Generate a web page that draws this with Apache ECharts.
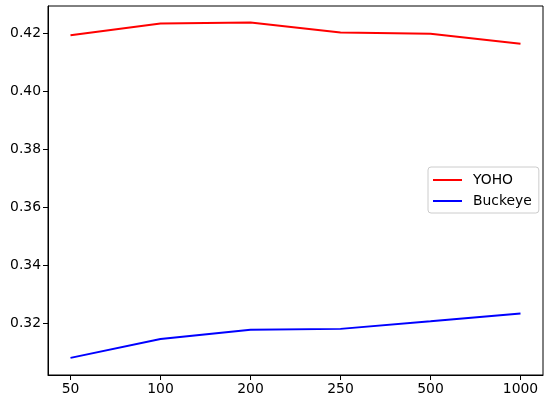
<!DOCTYPE html>
<html><head><meta charset="utf-8">
<script src="https://cdn.jsdelivr.net/npm/echarts@6/dist/echarts.min.js"></script>
<style>html,body{margin:0;padding:0;background:#fff}#c{width:552px;height:406px}</style>
</head><body><div id="c"></div>
<script>
const categories = ['50', '100', '200', '250', '500', '1000'];
const yoho = [0.4193, 0.4234, 0.4237, 0.4203, 0.4198, 0.4164];
const buckeye = [0.3081, 0.3146, 0.3178, 0.3181, 0.3207, 0.3234];
const yTicks = [0.32, 0.34, 0.36, 0.38, 0.40, 0.42];

const idx = categories.map((_, i) => i);
const chart = echarts.init(document.getElementById('c'), null, {renderer: 'canvas'});
const font = 'DejaVu Sans';
chart.setOption({
  animation: false,
  backgroundColor: '#fff',
  grid: {left: 48, top: 6, right: 9, bottom: 31, show: true, borderColor: '#000', borderWidth: 1},
  xAxis: {
    type: 'value', min: -0.25, max: 5.25,
    splitLine: {show: false},
    axisLine: {show: true, onZero: false, lineStyle: {color: '#000', width: 1}},
    axisTick: {show: true, length: 5, lineStyle: {color: '#000'}, customValues: idx},
    axisLabel: {customValues: idx, formatter: v => categories[Math.round(v)] || '', color: '#000', fontFamily: font, fontSize: 13.9, margin: 7}
  },
  yAxis: {
    type: 'value', min: 0.3022, max: 0.4294,
    splitLine: {show: false},
    axisLine: {show: true, onZero: false, lineStyle: {color: '#000', width: 1}},
    axisTick: {show: true, length: 5, lineStyle: {color: '#000'}, customValues: yTicks},
    axisLabel: {customValues: yTicks, formatter: v => v.toFixed(2), color: '#000', fontFamily: font, fontSize: 13.9, margin: 7}
  },
  legend: {
    left: 428, top: 167, orient: 'vertical',
    backgroundColor: '#fff', borderColor: '#ccc', borderWidth: 1, borderRadius: 3,
    padding: [6, 7, 5, 5], itemGap: 7, itemWidth: 29, itemHeight: 2, icon: 'rect',
    textStyle: {fontFamily: font, fontSize: 13.9, color: '#000', padding: [0, 0, 0, 6]},
    data: ['YOHO', 'Buckeye']
  },
  series: [
    {name: 'YOHO', type: 'line', data: idx.map(i => [i, yoho[i]]), showSymbol: false, symbol: 'none', lineStyle: {color: '#ff0000', width: 2}, itemStyle: {color: '#ff0000'}},
    {name: 'Buckeye', type: 'line', data: idx.map(i => [i, buckeye[i]]), showSymbol: false, symbol: 'none', lineStyle: {color: '#0000ff', width: 2}, itemStyle: {color: '#0000ff'}}
  ]
});
</script></body></html>
